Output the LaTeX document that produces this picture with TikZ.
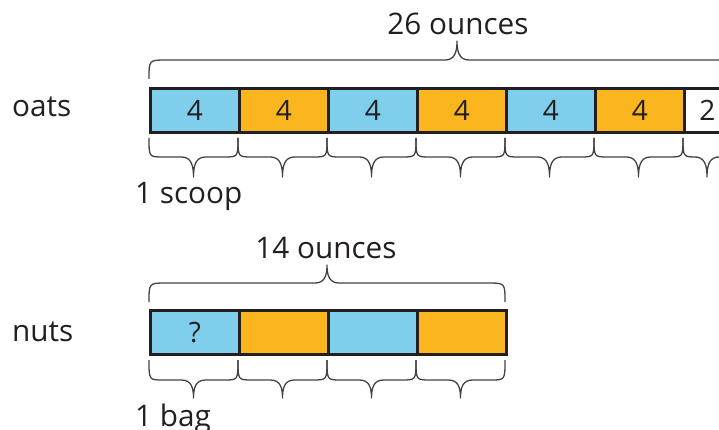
\documentclass[tikz,border=0pt]{standalone}
\usepackage{fontspec}
\setmainfont{Open Sans}
\definecolor{ink}{HTML}{231F20}
\definecolor{barblue}{HTML}{7FCEEB}
\definecolor{barorange}{HTML}{FBB51F}
\tikzset{
  cell/.style={draw=ink, line width=2.6pt, minimum height=44pt, inner sep=0pt,
    anchor=north west, font=\fontsize{28}{32}\selectfont, text=ink},
  bluecell/.style={cell, fill=barblue},
  orangecell/.style={cell, fill=barorange},
  whitecell/.style={cell, fill=white},
  bracestyle/.style={draw=ink!85, line width=1.3pt, line join=round},
  lbl/.style={font=\fontsize{29.7}{34}\selectfont, text=ink, inner sep=0pt}
}
% curly brace between x1 and x2: arm ends at yend, straight part at yline, tip at ytip
\newcommand\curlybrace[6]{% x1, x2, yend, yline, ytip, corner
  \draw[bracestyle] (#1,#3) .. controls (#1,#4) .. ({#1+#6},#4)
    -- ({(#1+#2)/2-12},#4) .. controls ({(#1+#2)/2-2},#4) and ({(#1+#2)/2},{#4+0.45*(#5-#4)}) .. ({(#1+#2)/2},#5)
    .. controls ({(#1+#2)/2},{#4+0.45*(#5-#4)}) and ({(#1+#2)/2+2},#4) .. ({(#1+#2)/2+12},#4)
    -- ({#2-#6},#4) .. controls (#2,#4) .. (#2,#3);}
\begin{document}
\begin{tikzpicture}[x=1pt, y=-1pt]
\useasboundingbox (0,0) rectangle (719,430);
\clip (0,0) rectangle (719,430);

% oats bar
\node[bluecell,   minimum width=89pt] (o1) at (149,87) {4};
\node[orangecell, minimum width=89pt] (o2) at (238,87) {4};
\node[bluecell,   minimum width=89pt] (o3) at (327,87) {4};
\node[orangecell, minimum width=89pt] (o4) at (416,87) {4};
\node[bluecell,   minimum width=89pt] (o5) at (505,87) {4};
\node[orangecell, minimum width=89pt] (o6) at (594,87) {4};
\node[whitecell,  minimum width=46pt] (o7) at (683,87) {2};

\node[lbl, anchor=base west] (oats) at (12,117) {oats};
\node[lbl, anchor=base] (oz26) at (458,35) {26 ounces};
\node[lbl, anchor=base west] (scoop) at (135,204) {1 scoop};

% braces over and under the oats bar
\curlybrace{149}{765}{79}{60}{41}{17}
\curlybrace{149}{238}{138}{157}{177}{14}
\curlybrace{238}{327}{138}{157}{177}{14}
\curlybrace{327}{416}{138}{157}{177}{14}
\curlybrace{416}{505}{138}{157}{177}{14}
\curlybrace{505}{594}{138}{157}{177}{14}
\curlybrace{594}{683}{138}{157}{177}{14}
\curlybrace{683}{731}{138}{157}{177}{14}

% nuts bar
\node[bluecell,   minimum width=89pt] (n1) at (149,309) {?};
\node[orangecell, minimum width=89pt] (n2) at (238,309) {};
\node[bluecell,   minimum width=89pt] (n3) at (327,309) {};
\node[orangecell, minimum width=89pt] (n4) at (416,309) {};

\node[lbl, anchor=base west] (nuts) at (12,341) {nuts};
\node[lbl, anchor=base] (oz14) at (326,258) {14 ounces};
\node[lbl, anchor=base west] (bag) at (135,426) {1 bag};

% braces over and under the nuts bar
\curlybrace{149}{505}{302}{283}{265}{17}
\curlybrace{149}{238}{360}{380}{398}{14}
\curlybrace{238}{327}{360}{380}{398}{14}
\curlybrace{327}{416}{360}{380}{398}{14}
\curlybrace{416}{505}{360}{380}{398}{14}
\end{tikzpicture}
\end{document}
